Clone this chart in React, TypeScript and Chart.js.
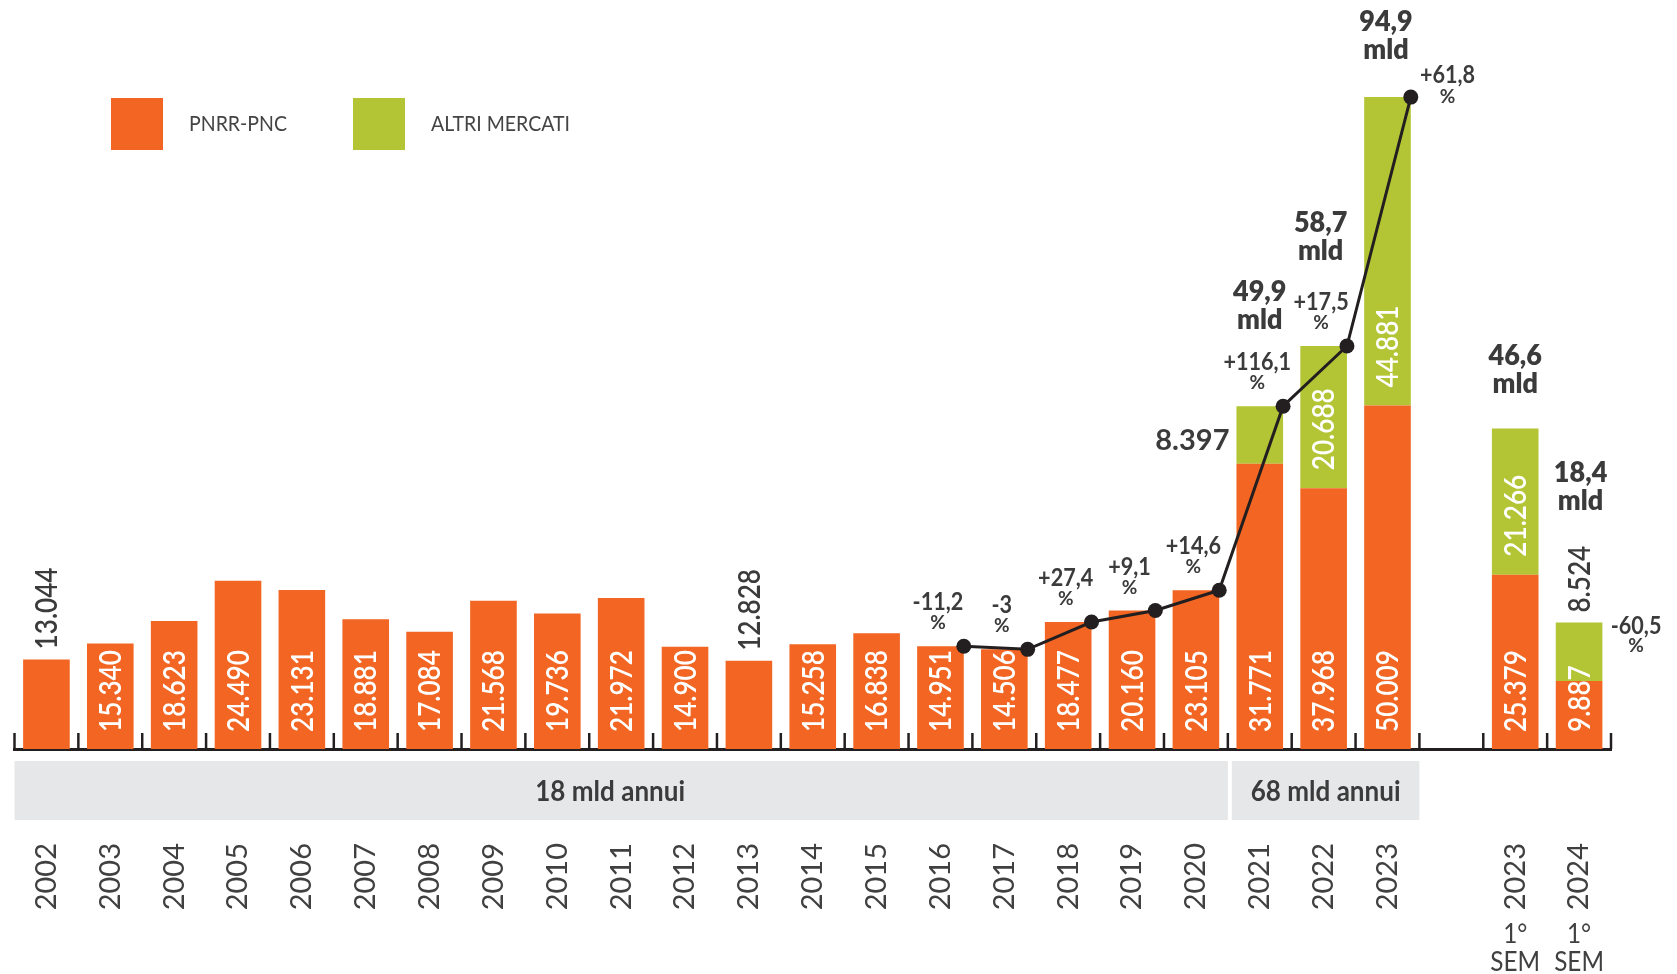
import React, { useEffect, useRef } from 'react';
import { Chart, registerables } from 'chart.js';

Chart.register(...registerables);

// ---------------- DATA ----------------
const categories = [
  '2002', '2003', '2004', '2005', '2006', '2007', '2008', '2009', '2010', '2011',
  '2012', '2013', '2014', '2015', '2016', '2017', '2018', '2019', '2020', '2021',
  '2022', '2023', '', '2023', '2024',
];
const categorySubLines: string[][] = [
  [], [], [], [], [], [], [], [], [], [], [], [], [], [], [], [], [], [], [], [], [], [], [],
  ['1°', 'SEM'], ['1°', 'SEM'],
];

// PNRR-PNC (orange) segment, millions of euro
const pnrrValues: (number | null)[] = [
  13044, 15340, 18623, 24490, 23131, 18881, 17084, 21568, 19736, 21972,
  14900, 12828, 15258, 16838, 14951, 14506, 18477, 20160, 23105, 41503,
  37968, 50009, null, 25379, 9887,
];
const pnrrLabels = [
  '13.044', '15.340', '18.623', '24.490', '23.131', '18.881', '17.084', '21.568', '19.736', '21.972',
  '14.900', '12.828', '15.258', '16.838', '14.951', '14.506', '18.477', '20.160', '23.105', '31.771',
  '37.968', '50.009', '', '25.379', '9.887',
];
// ALTRI MERCATI (green) segment
const altriValues: (number | null)[] = [
  null, null, null, null, null, null, null, null, null, null,
  null, null, null, null, null, null, null, null, null, 8397,
  20688, 44881, null, 21266, 8524,
];
const altriLabels = [
  '', '', '', '', '', '', '', '', '', '',
  '', '', '', '', '', '', '', '', '', '8.397',
  '20.688', '44.881', '', '21.266', '8.524',
];

// yearly change line (category index) and labels
const growthIndex = [14, 15, 16, 17, 18, 19, 20, 21];
const growthLabels = ['-11,2', '-3', '+27,4', '+9,1', '+14,6', '+116,1', '+17,5', '+61,8'];
const semesterGrowthIndex = 24;
const semesterGrowthLabel = '-60,5';

// totals (mld)
const totalIndex = [19, 20, 21, 23, 24];
const totalLabels = ['49,9', '58,7', '94,9', '46,6', '18,4'];

// bands under the axis
const bandLabels = ['18 mld annui', '68 mld annui'];
const bandRanges = [[0, 18], [19, 21]];

// ---------------- STYLE / LAYOUT ----------------
const ORANGE = '#f26522';
const GREEN = '#b3c535';
const DARK = '#3b3b3b';
const AXIS = '#231f20';
const BAND = '#e6e7e8';
const GREY_TEXT = '#404040';
const BAR_PCT = 0.73;

// placement of value labels: in = inside bar, above = above bar, left = left of bar
const pnrrPlacement = pnrrLabels.map((_, i) => (i === 0 || i === 11 ? 'above' : 'in'));
const altriPlacement = altriLabels.map((_, i) => (i === 19 ? 'left' : i === 24 ? 'above' : 'in'));

const growthOffsets: Record<number, { dx: number; dy1: number; dy2: number }> = {
  21: { dx: 60, dy1: -14, dy2: 6 },
};
const semesterGrowthOffset = { dx: 57, dy1: 11.5, dy2: 29 };
const totalOffsets: Record<number, { dx: number; dy: number }> = {
  19: { dx: 0, dy: -77 },
  20: { dx: -3, dy: -86 },
  21: { dx: -1.5, dy: -38 },
  23: { dx: 0, dy: -35.5 },
  24: { dx: 1.5, dy: -112.5 },
};

function drawText(
  ctx: CanvasRenderingContext2D,
  text: string,
  x: number,
  y: number,
  font: string,
  color: string,
  opts: { align?: CanvasTextAlign; rotate?: boolean; sx?: number } = {}
) {
  ctx.save();
  ctx.translate(x, y);
  if (opts.rotate) ctx.rotate(-Math.PI / 2);
  ctx.scale(opts.sx ?? 1, 1);
  ctx.font = font;
  ctx.fillStyle = color;
  ctx.textAlign = opts.align ?? 'center';
  ctx.textBaseline = 'alphabetic';
  ctx.fillText(text, 0, 0);
  ctx.restore();
}

const VAL_SIZE = 30;
const VAL_FONT = `600 ${VAL_SIZE}px Lato`;
const VAL_CAP = VAL_SIZE * 0.717;
const VAL_SX = 0.87;

const decorPlugin = {
  id: 'decor',
  afterDraw(chart: any) {
    const ctx: CanvasRenderingContext2D = chart.ctx;
    const xs = chart.scales.x;
    const ys = chart.scales.y;
    const edge = (k: number) => xs.getPixelForValue(k - 0.5);
    const base = ys.getPixelForValue(0);

    // tick marks pointing up at every category boundary
    ctx.save();
    ctx.strokeStyle = AXIS;
    ctx.lineWidth = 2.5;
    for (let k = 0; k <= categories.length; k++) {
      const px = edge(k);
      ctx.beginPath();
      ctx.moveTo(px, base);
      ctx.lineTo(px, base - 16);
      ctx.stroke();
    }
    ctx.restore();

    // grey bands
    bandRanges.forEach(([a, b], j) => {
      const x0 = edge(a) + (j === 0 ? 0 : 4);
      const x1 = edge(b + 1);
      ctx.fillStyle = BAND;
      ctx.fillRect(x0, base + 12, x1 - x0, 59);
      drawText(ctx, bandLabels[j], (x0 + x1) / 2 + (j === 0 ? -11 : 0), base + 52, '700 28px Lato', DARK, { sx: 0.93 });
    });

    // sub lines under rotated year labels
    categorySubLines.forEach((lines, i) => {
      lines.forEach((s, k) => {
        drawText(ctx, s, xs.getPixelForValue(i), 943 + k * 28, '400 27px Lato', GREY_TEXT, { sx: 0.9 });
      });
    });

    // legend
    const legendX = [111, 353];
    [1, 2].forEach((di, j) => {
      const ds = chart.data.datasets[di];
      ctx.fillStyle = ds.backgroundColor;
      ctx.fillRect(legendX[j], 98, 52, 52);
      drawText(ctx, ds.label, legendX[j] + 78, 131, '400 21px Lato', '#444444', { align: 'left', sx: 0.93 });
    });

    const mP = chart.getDatasetMeta(1);
    const mA = chart.getDatasetMeta(2);

    // value labels
    const drawValue = (el: any, label: string, mode: string, segBottom: number, inset: number) => {
      if (!label || !el) return;
      if (mode === 'in') {
        drawText(ctx, label, el.x + VAL_CAP / 2, segBottom - inset, VAL_FONT, '#ffffff', { rotate: true, align: 'left', sx: VAL_SX });
      } else if (mode === 'above') {
        drawText(ctx, label, el.x + VAL_CAP / 2, el.y - 10, VAL_FONT, DARK, { rotate: true, align: 'left', sx: VAL_SX });
      } else if (mode === 'left') {
        drawText(ctx, label, el.x - el.width / 2 - 7, (el.y + el.base) / 2 + 15, '700 29px Lato', DARK, { align: 'right' });
      }
    };
    pnrrValues.forEach((v, i) => {
      if (v == null) return;
      const el = mP.data[i];
      drawValue(el, pnrrLabels[i], pnrrPlacement[i], el.base, 17);
    });
    altriValues.forEach((v, i) => {
      if (v == null) return;
      const el = mA.data[i];
      drawValue(el, altriLabels[i], altriPlacement[i], el.base, 18);
    });

    // growth labels
    const mL = chart.getDatasetMeta(0);
    growthIndex.forEach((ci, j) => {
      const pt = mL.data[j];
      const o = growthOffsets[ci] ?? { dx: -2.5, dy1: -36, dy2: -17 };
      const cx = xs.getPixelForValue(ci) + o.dx;
      drawText(ctx, growthLabels[j], cx, pt.y + o.dy1, '700 24px Lato', DARK, { sx: 0.9 });
      drawText(ctx, '%', cx, pt.y + o.dy2, '700 19px Lato', DARK);
    });
    {
      const el = mA.data[semesterGrowthIndex];
      const cx = el.x + semesterGrowthOffset.dx;
      drawText(ctx, semesterGrowthLabel, cx, el.y + semesterGrowthOffset.dy1, '700 24px Lato', DARK, { sx: 0.9 });
      drawText(ctx, '%', cx, el.y + semesterGrowthOffset.dy2, '700 19px Lato', DARK);
    }

    // totals
    totalIndex.forEach((ci, j) => {
      const el = altriValues[ci] != null ? mA.data[ci] : mP.data[ci];
      const o = totalOffsets[ci];
      const cx = el.x + o.dx;
      drawText(ctx, totalLabels[j], cx, el.y + o.dy - 28.5, '800 29px Lato', DARK, { sx: 0.93 });
      drawText(ctx, 'mld', cx, el.y + o.dy, '800 29px Lato', DARK, { sx: 0.93 });
    });
  },
};

export default function App() {
  const ref = useRef<HTMLCanvasElement>(null);

  useEffect(() => {
    const totals = categories.map((_, i) => (pnrrValues[i] ?? 0) + (altriValues[i] ?? 0));
    const chart = new Chart(ref.current as HTMLCanvasElement, {
      type: 'bar',
      data: {
        datasets: [
          {
            type: 'line',
            label: 'Variazione %',
            data: growthIndex.map((ci) => ({ x: ci + BAR_PCT / 2, y: totals[ci] })),
            borderColor: AXIS,
            borderWidth: 3,
            pointRadius: 7.5,
            pointBackgroundColor: AXIS,
            pointBorderWidth: 0,
            tension: 0,
            order: 0,
          } as any,
          {
            type: 'bar',
            label: 'PNRR-PNC',
            data: pnrrValues.map((v, i) => ({ x: i, y: v })),
            backgroundColor: ORANGE,
            grouped: false,
            barPercentage: BAR_PCT,
            categoryPercentage: 1,
            order: 1,
          } as any,
          {
            type: 'bar',
            label: 'ALTRI MERCATI',
            data: altriValues.map((v, i) => ({ x: i, y: v })),
            backgroundColor: GREEN,
            grouped: false,
            barPercentage: BAR_PCT,
            categoryPercentage: 1,
            order: 2,
          } as any,
        ],
      },
      options: {
        responsive: false,
        animation: false,
        events: [],
        layout: { padding: { left: 14.5, right: 66, top: 62, bottom: 0 } },
        scales: {
          x: {
            type: 'linear',
            offset: false,
            min: -0.5,
            max: categories.length - 0.5,
            afterBuildTicks: (s: any) => {
              s.ticks = categories.map((_, i) => ({ value: i }));
            },
            grid: {
              display: true,
              offset: false,
              drawOnChartArea: false,
              drawTicks: true,
              tickLength: 94,
              color: 'rgba(0,0,0,0)',
            },
            border: { display: true, color: AXIS, width: 3 },
            ticks: {
              autoSkip: false,
              minRotation: 90,
              maxRotation: 90,
              padding: 0,
              color: GREY_TEXT,
              font: { family: 'Lato', size: 29, weight: '400' as any },
              callback: (_v: any, i: number) => categories[i],
            },
            afterFit: (s: any) => {
              s.height = 225;
            },
          },
          y: { type: 'linear', stacked: true, display: false, min: 0, max: 100000 },
        },
        plugins: { legend: { display: false }, tooltip: { enabled: false } },
      },
      plugins: [decorPlugin],
    } as any);
    return () => chart.destroy();
  }, []);

  return (
    <div style={{ position: 'fixed', left: 0, top: 0, width: 1677, height: 974, background: '#ffffff' }}>
      <canvas ref={ref} width={1677} height={974} style={{ display: 'block', width: 1677, height: 974 }} />
    </div>
  );
}
